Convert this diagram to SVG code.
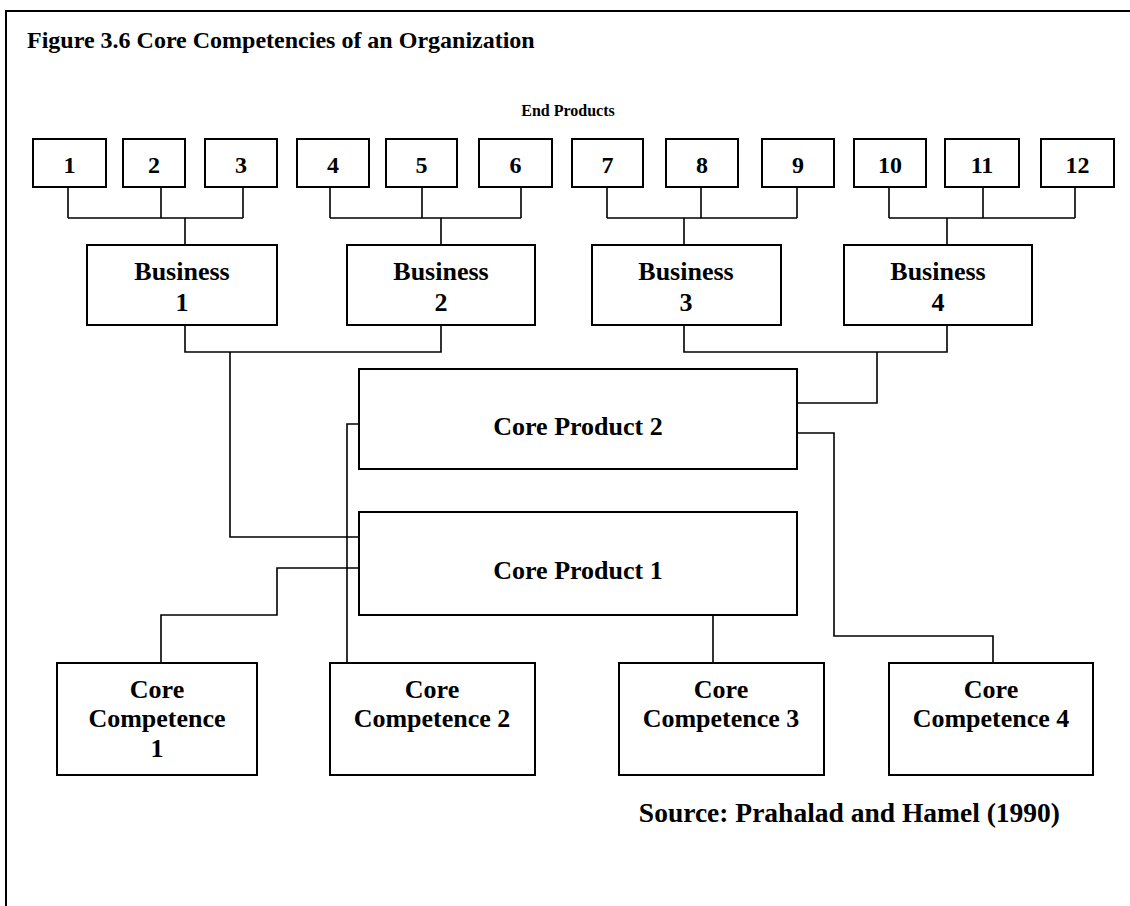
<svg xmlns="http://www.w3.org/2000/svg" width="1130" height="906" viewBox="0 0 1130 906">
<style>
.frame{fill:none;stroke:#000;stroke-width:2}
.box{fill:#fff;stroke:#000;stroke-width:2}
.con{fill:none;stroke:#000;stroke-width:1.6}
text{font-family:"Liberation Serif","Times New Roman",serif;font-weight:bold;fill:#000}
.t{font-size:24px}
.ep{font-size:16px}
.n{font-size:24px;text-anchor:middle}
.l{font-size:26px;text-anchor:middle}
.src{font-size:27.5px;text-anchor:end}
</style>
<rect width="1130" height="906" fill="#fff"/>
<path class="frame" d="M6,906 V11 H1131"/>
<text class="t" x="27" y="48">Figure 3.6 Core Competencies of an Organization</text>
<text class="ep" x="568" y="116" text-anchor="middle">End Products</text>

<g id="connectors">
<path class="con" d="M68,187V218M161,187V218M243,187V218M68,218H243M185,218V245"/>
<path class="con" d="M330,187V218M422,187V218M521,187V218M330,218H521M441,218V245"/>
<path class="con" d="M607,187V218M701,187V218M797,187V218M607,218H797M684,218V245"/>
<path class="con" d="M889,187V218M983,187V218M1075,187V218M889,218H1075M947,218V245"/>
<path class="con" d="M185,325V352H441V325M230,352V537H359"/>
<path class="con" d="M684,325V352H947V325M877,352V403H797"/>
<path class="con" d="M359,424H347V663"/>
<path class="con" d="M359,568H277V615H161V663"/>
<path class="con" d="M713,615V663"/>
<path class="con" d="M797,433H834V636H993V663"/>
</g>

<g id="ep1"><rect class="box" x="33" y="139" width="73" height="48"/><text class="n" x="69.5" y="173">1</text></g>
<g id="ep2"><rect class="box" x="123" y="139" width="62" height="48"/><text class="n" x="154" y="173">2</text></g>
<g id="ep3"><rect class="box" x="205" y="139" width="72" height="48"/><text class="n" x="241" y="173">3</text></g>
<g id="ep4"><rect class="box" x="297" y="139" width="72" height="48"/><text class="n" x="333" y="173">4</text></g>
<g id="ep5"><rect class="box" x="386" y="139" width="71" height="48"/><text class="n" x="421.5" y="173">5</text></g>
<g id="ep6"><rect class="box" x="479" y="139" width="73" height="48"/><text class="n" x="515.5" y="173">6</text></g>
<g id="ep7"><rect class="box" x="572" y="139" width="71" height="48"/><text class="n" x="607.5" y="173">7</text></g>
<g id="ep8"><rect class="box" x="666" y="139" width="72" height="48"/><text class="n" x="702" y="173">8</text></g>
<g id="ep9"><rect class="box" x="762" y="139" width="72" height="48"/><text class="n" x="798" y="173">9</text></g>
<g id="ep10"><rect class="box" x="854" y="139" width="72" height="48"/><text class="n" x="890" y="173">10</text></g>
<g id="ep11"><rect class="box" x="945" y="139" width="74" height="48"/><text class="n" x="982" y="173">11</text></g>
<g id="ep12"><rect class="box" x="1041" y="139" width="73" height="48"/><text class="n" x="1077.5" y="173">12</text></g>

<g id="business1"><rect class="box" x="87" y="245" width="190" height="80"/><text class="l" x="182" y="280">Business</text><text class="l" x="182" y="311">1</text></g>
<g id="business2"><rect class="box" x="347" y="245" width="188" height="80"/><text class="l" x="441" y="280">Business</text><text class="l" x="441" y="311">2</text></g>
<g id="business3"><rect class="box" x="592" y="245" width="189" height="80"/><text class="l" x="686" y="280">Business</text><text class="l" x="686" y="311">3</text></g>
<g id="business4"><rect class="box" x="844" y="245" width="188" height="80"/><text class="l" x="938" y="280">Business</text><text class="l" x="938" y="311">4</text></g>

<g id="coreproduct2"><rect class="box" x="359" y="369" width="438" height="100"/><text class="l" x="578" y="435">Core Product 2</text></g>
<g id="coreproduct1"><rect class="box" x="359" y="512" width="438" height="103"/><text class="l" x="578" y="579">Core Product 1</text></g>

<g id="cc1"><rect class="box" x="57" y="663" width="200" height="112"/><text class="l" x="157" y="698">Core</text><text class="l" x="157" y="727">Competence</text><text class="l" x="157" y="757">1</text></g>
<g id="cc2"><rect class="box" x="330" y="663" width="205" height="112"/><text class="l" x="432" y="698">Core</text><text class="l" x="432" y="727">Competence 2</text></g>
<g id="cc3"><rect class="box" x="619" y="663" width="205" height="112"/><text class="l" x="721" y="698">Core</text><text class="l" x="721" y="727">Competence 3</text></g>
<g id="cc4"><rect class="box" x="889" y="663" width="204" height="112"/><text class="l" x="991" y="698">Core</text><text class="l" x="991" y="727">Competence 4</text></g>

<text class="src" x="1060" y="822">Source: Prahalad and Hamel (1990)</text>
</svg>
